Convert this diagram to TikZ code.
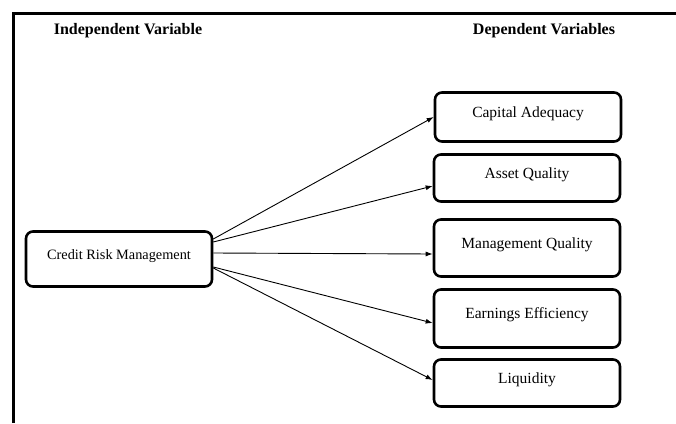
\documentclass[tikz,border=0pt]{standalone}
\usepackage{fontspec}
\setmainfont{Liberation Serif}
\usetikzlibrary{positioning,arrows.meta}

\begin{document}
\begin{tikzpicture}[x=1pt, y=-1pt,
  varbox/.style={draw, rectangle, rounded corners=7pt, line width=2.6pt, minimum width=186pt, text height=10pt, text depth=10pt, font=\fontsize{15.5}{18}\selectfont},
  head/.style={font=\bfseries\fontsize{16}{19}\selectfont},
  link/.style={-{Latex[length=7pt,width=5pt]}, line width=0.9pt}]
	\useasboundingbox (0,0) rectangle (676,423);
	\draw[line width=3pt] (13.5,423) -- (13.5,13.5) -- (676,13.5);
	% headings
	\node[head] (indep) at (128,31) {Independent Variable};
	\node[head] (dep) at (544,31) {Dependent Variables};
	% boxes
	\node[varbox, minimum height=55pt, font=\fontsize{14.3}{17}\selectfont] (crm) at (119,259) {Credit Risk Management};
	\node[varbox, minimum height=49pt] (cap) at (528,117) {Capital Adequacy};
	\node[varbox, minimum height=47pt] (asset) at (527,178) {Asset Quality};
	\node[varbox, minimum height=57pt] (mgmt) at (527,248) {Management Quality};
	\node[varbox, minimum height=58pt] (earn) at (527,318.5) {Earnings Efficiency};
	\node[varbox, minimum height=47pt] (liq) at (527,383) {Liquidity};
	% arrows
	\draw[link] ([yshift=20pt]crm.east) -- (cap.west);
	\draw[link] ([yshift=17pt]crm.east) -- ([yshift=-8pt]asset.west);
	\draw[link] ([yshift=6pt]crm.east) -- ([yshift=-6pt]mgmt.west);
	\draw[link] ([yshift=-8pt]crm.east) -- ([yshift=-4.5pt]earn.west);
	\draw[link] ([yshift=-9pt]crm.east) -- ([yshift=3pt]liq.west);
\end{tikzpicture}
\end{document}
